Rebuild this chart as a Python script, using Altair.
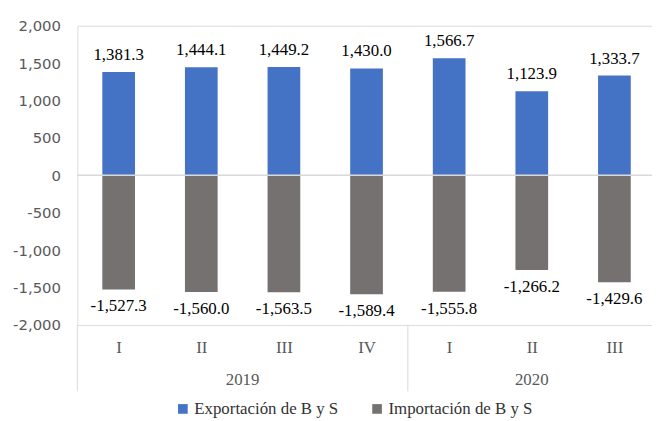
import altair as alt
import pandas as pd

quarters = ["I", "II", "III", "IV", "I", "II", "III"]
years = ["2019", "2019", "2019", "2019", "2020", "2020", "2020"]
exports = [1381.3, 1444.1, 1449.2, 1430.0, 1566.7, 1123.9, 1333.7]
imports = [-1527.3, -1560.0, -1563.5, -1589.4, -1555.8, -1266.2, -1429.6]
series = ["Exportación de B y S", "Importación de B y S"]
colors = ["#4472C4", "#767171"]
y_ticks = [-2000, -1500, -1000, -500, 0, 500, 1000, 1500, 2000]

W, H = 580, 302
SERIF = "Liberation Serif"

rows = []
for i, q in enumerate(quarters):
    rows.append({"idx": i, "serie": series[0], "value": exports[i]})
    rows.append({"idx": i, "serie": series[1], "value": imports[i]})
df = pd.DataFrame(rows)

# year groups
year_names = sorted(set(years))
year_df = pd.DataFrame({
    "idx": [sum(i for i, y in enumerate(years) if y == yn) / years.count(yn) for yn in year_names],
    "year": year_names,
})
bounds = [-0.5]
for i in range(1, len(years)):
    if years[i] != years[i - 1]:
        bounds.append(i - 0.5)
bounds.append(len(years) - 0.5)
bound_df = pd.DataFrame({"idx": bounds})

label_expr = "[" + ",".join("'%s'" % q for q in quarters) + "][datum.value]"

xscale = alt.Scale(domain=[-0.5, 6.455], nice=False, zero=False, padding=0)
xenc = alt.X(
    "idx:Q",
    scale=xscale,
    axis=alt.Axis(
        values=list(range(len(quarters))),
        labelExpr=label_expr,
        title=None,
        grid=False,
        domain=False,
        ticks=False,
        tickSize=0,
        labelPadding=23,
        labelBaseline="middle",
        labelFont=SERIF,
        labelFontSize=17,
        labelColor="#595959",
    ),
)
yscale = alt.Scale(domain=[-2000, 2000], nice=False, padding=0)
yenc = alt.Y(
    "value:Q",
    scale=yscale,
    axis=alt.Axis(
        values=y_ticks,
        labelExpr="replace(format(datum.value, ',.0f'), '\u2212', '-')",
        title=None,
        grid=False,
        domain=False,
        ticks=False,
        tickSize=0,
        labelPadding=17,
        labelFont="DejaVu Sans",
        labelFontSize=15,
        labelColor="#595959",
    ),
)

base = alt.Chart(df).transform_calculate(
    lbl="replace(format(datum.value, ',.1f'), '\u2212', '-')"
)

bars = base.mark_bar(size=33, orient="vertical").encode(
    x=xenc,
    y=yenc,
    y2=alt.datum(0),
    color=alt.Color(
        "serie:N",
        scale=alt.Scale(domain=series, range=colors),
        legend=alt.Legend(
            title=None,
            orient="none",
            legendX=98,
            legendY=378,
            direction="horizontal",
            symbolType="square",
            symbolSize=95,
            symbolStrokeWidth=0,
            labelFont=SERIF,
            labelFontSize=17,
            labelColor="#333333",
            labelOffset=3,
            columnPadding=30,
            padding=0,
        ),
    ),
)

pos_labels = base.transform_filter("datum.value >= 0").mark_text(
    font=SERIF, fontSize=17, color="#000000", baseline="middle", dy=-17
).encode(x=xenc, y=yenc, text="lbl:N")

neg_labels = base.transform_filter("datum.value < 0").mark_text(
    font=SERIF, fontSize=17, color="#000000", baseline="middle", dy=17
).encode(x=xenc, y=yenc, text="lbl:N")

zero_df = pd.DataFrame({"value": [0]})
zero_rule = alt.Chart(zero_df).mark_rule(color="#d9d9d9", strokeWidth=1.5).encode(
    y=yenc, x=alt.value(0), x2=alt.value(W)
)

seps = alt.Chart(bound_df).mark_rule(color="#d9d9d9", strokeWidth=1).encode(
    x=xenc, y=alt.value(H), y2=alt.value(H + 67)
)

year_text = alt.Chart(year_df).mark_text(
    font=SERIF, fontSize=17, color="#595959", baseline="middle"
).encode(x=xenc, y=alt.value(H + 56), text="year:N")

chart = alt.layer(bars, zero_rule, pos_labels, neg_labels, seps, year_text).properties(
    width=W,
    height=H,
    autosize=alt.AutoSizeParams(type="none"),
    padding={"left": 70, "top": 16, "right": 0, "bottom": 93},
).configure_view(stroke=None).configure(background="white")

chart.save("out.html", embed_options={"renderer": "svg", "actions": False})
